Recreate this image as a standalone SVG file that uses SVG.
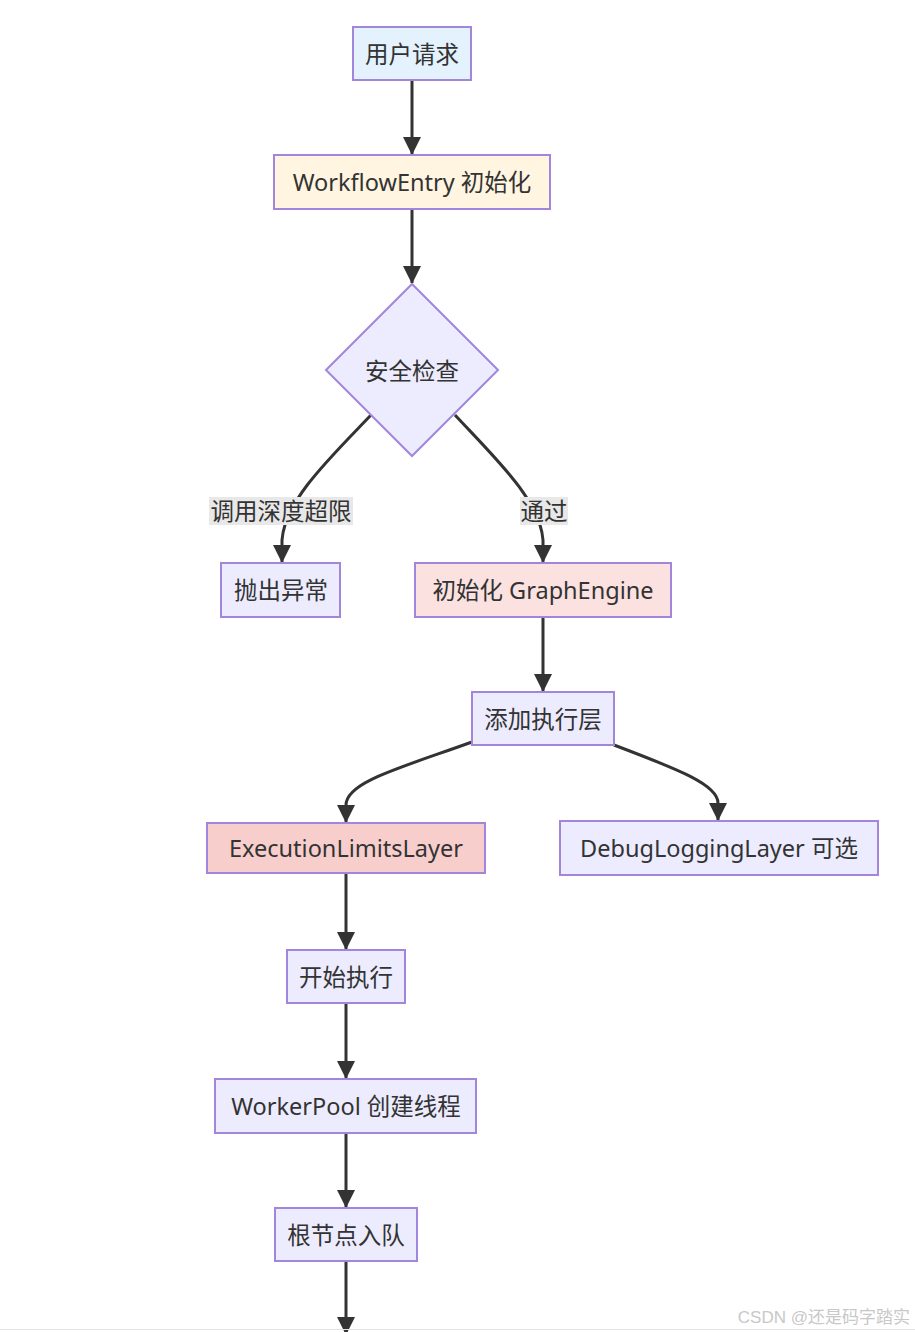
<svg xmlns="http://www.w3.org/2000/svg" width="915" height="1332" viewBox="0 0 915 1332">
<defs>
<marker id="arrbig" viewBox="0 0 18 18" refX="17" refY="9" markerWidth="18" markerHeight="18" markerUnits="userSpaceOnUse" orient="auto">
<path d="M0,0 L18,9 L0,18 z" fill="#333"/>
</marker>
<style>
.n rect,.n polygon{stroke:#a186dc;stroke-width:2}
.t{font-family:"Noto Sans","Noto Sans CJK SC",sans-serif;font-size:23.5px;fill:#333;text-anchor:middle;dominant-baseline:central}
.e{fill:none;stroke:#333;stroke-width:3;marker-end:url(#arrbig)}
.lb{fill:#e8e8e8}
</style>
</defs>
<rect width="915" height="1332" fill="#fff"/>
<g id="connectors">
<path class="e" d="M412,80 L412,154"/>
<path class="e" d="M412,209 L412,283"/>
<path class="e" d="M371,415 C330,458 285,500 282,540 L282,562"/>
<path class="e" d="M455,415 C495,458 540,500 543,540 L543,562"/>
<path class="e" d="M543,617 L543,691"/>
<path class="e" d="M472,742 C400,768 346,782 346,805 L346,822"/>
<path class="e" d="M614,745 C680,770 718,785 718,803 L718,820"/>
<path class="e" d="M346,873 L346,949"/>
<path class="e" d="M346,1003 L346,1078"/>
<path class="e" d="M346,1133 L346,1207"/>
<path class="e" d="M346,1261 L346,1334"/>
<rect class="lb" x="209" y="497" width="144" height="28"/>
<text class="t" x="281" y="511">调用深度超限</text>
<rect class="lb" x="520" y="497" width="48" height="28"/>
<text class="t" x="544" y="511">通过</text>
</g>
<g id="n1" class="n"><rect x="353" y="27" width="118" height="53" fill="#e3f2fd"/><text class="t" x="412" y="54">用户请求</text></g>
<g id="n2" class="n"><rect x="274" y="155" width="276" height="54" fill="#fff5e1"/><text class="t" x="412" y="182">WorkflowEntry 初始化</text></g>
<g id="n3" class="n"><polygon points="412,284 498,370 412,456 326,370" fill="#ececfe"/><text class="t" x="412" y="371">安全检查</text></g>
<g id="n4" class="n"><rect x="221" y="563" width="119" height="54" fill="#ececfe"/><text class="t" x="281" y="590">抛出异常</text></g>
<g id="n5" class="n"><rect x="415" y="563" width="256" height="54" fill="#fbe2e0"/><text class="t" x="543" y="590">初始化 GraphEngine</text></g>
<g id="n6" class="n"><rect x="472" y="692" width="142" height="53" fill="#ececfe"/><text class="t" x="543" y="719">添加执行层</text></g>
<g id="n7" class="n"><rect x="207" y="823" width="278" height="50" fill="#f8cecc"/><text class="t" x="346" y="848">ExecutionLimitsLayer</text></g>
<g id="n8" class="n"><rect x="560" y="821" width="318" height="54" fill="#ececfe"/><text class="t" x="719" y="848">DebugLoggingLayer 可选</text></g>
<g id="n9" class="n"><rect x="287" y="950" width="118" height="53" fill="#ececfe"/><text class="t" x="346" y="977">开始执行</text></g>
<g id="n10" class="n"><rect x="215" y="1079" width="261" height="54" fill="#ececfe"/><text class="t" x="346" y="1106">WorkerPool 创建线程</text></g>
<g id="n11" class="n"><rect x="275" y="1208" width="142" height="53" fill="#ececfe"/><text class="t" x="346" y="1235">根节点入队</text></g>
<line x1="0" y1="1329.5" x2="915" y2="1329.5" stroke="#e4e4e4" stroke-width="1"/>
<text x="910" y="1317" style="font-family:'Liberation Sans','Noto Sans CJK SC',sans-serif;font-size:17px;fill:#c8c8c8;text-anchor:end;dominant-baseline:central">CSDN @还是码字踏实</text>
</svg>
